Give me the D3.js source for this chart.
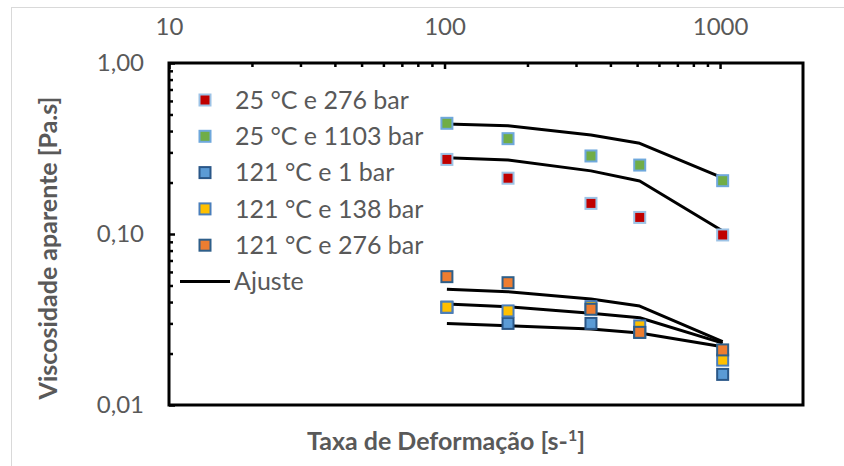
<!DOCTYPE html>
<meta charset="utf-8">
<style>
body { margin: 0; background: #fff; }
text { font-family: Lato, "Open Sans", sans-serif; fill: #595959; }
.axis path { display: none; }
.axis line { stroke: #000; stroke-width: 2.5; }
.axis text { font-size: 24px; }
.fit { fill: none; stroke: #000; stroke-width: 3; stroke-linejoin: round; }
</style>
<body></body>
<script src="https://cdn.jsdelivr.net/npm/d3@7"></script>
<script>

// shear rates [s-1]
var shearRates = [102, 170, 340, 511, 1022];

// measured apparent viscosity [Pa.s]
var visc25_276  = [0.273, 0.212, 0.151, 0.125, 0.0987];
var visc25_1103 = [0.444, 0.361, 0.286, 0.253, 0.205];
var visc121_1   = [0.0373, 0.0300, 0.0300, 0.0266, 0.0151];
var visc121_138 = [0.0373, 0.0355, 0.0376, 0.0290, 0.0183];
var visc121_276 = [0.0563, 0.0519, 0.0363, 0.0266, 0.0210];

// model fits ("Ajuste")
var fit25_276  = [0.279, 0.271, 0.234, 0.204, 0.104];
var fit25_1103 = [0.440, 0.430, 0.379, 0.339, 0.213];
var fit121_1   = [0.0300, 0.0291, 0.0278, 0.0264, 0.0219];
var fit121_138 = [0.0390, 0.0376, 0.0344, 0.0324, 0.0230];
var fit121_276 = [0.0475, 0.0460, 0.0417, 0.0379, 0.0235];

var seriesNames = ["25 °C e 276 bar", "25 °C e 1103 bar", "121 °C e 1 bar", "121 °C e 138 bar", "121 °C e 276 bar"];
var xTicks = [10, 100, 1000];
var yTicks = [0.01, 0.1, 1];

var series = [
  {name: seriesNames[0], values: visc25_276,  fill: "#C00000", stroke: "#9DC3E6"},
  {name: seriesNames[1], values: visc25_1103, fill: "#70AD47", stroke: "#6FA8DC"},
  {name: seriesNames[2], values: visc121_1,   fill: "#5B9BD5", stroke: "#2A5788"},
  {name: seriesNames[3], values: visc121_138, fill: "#FFC000", stroke: "#4A7EBB"},
  {name: seriesNames[4], values: visc121_276, fill: "#ED7D31", stroke: "#2E5F8A"}
];
var fits = [fit25_276, fit25_1103, fit121_1, fit121_138, fit121_276];

var margin = {top: 63, left: 169, right: 41, bottom: 61};
var W = 844, H = 466;
var width = W - margin.left - margin.right,
    height = H - margin.top - margin.bottom;

var svg = d3.select("body").append("svg")
    .attr("width", W)
    .attr("height", H);

// chart area border
svg.append("rect")
    .attr("x", 11.5).attr("y", 7.5)
    .attr("width", 900).attr("height", 600)
    .attr("fill", "#fff")
    .attr("stroke", "#d9d9d9");

var g = svg.append("g")
    .attr("transform", "translate(" + margin.left + "," + margin.top + ")");

var x = d3.scaleLog().domain([10, 2000]).range([0, width]);
var y = d3.scaleLog().domain([0.01, 1]).range([height, 0]);

var comma = d3.formatLocale({decimal: ",", thousands: ".", grouping: [3], currency: ["", ""]}).format(".2f");

// minor ticks
var xMinor = [], yMinor = [];
[10, 100, 1000].forEach(function(b) {
  for (var k = 2; k <= 9; k++) if (b * k < 2000) xMinor.push(b * k);
});
[0.01, 0.1].forEach(function(b) {
  for (var k = 2; k <= 9; k++) yMinor.push(b * k);
});

g.append("g").attr("class", "axis")
    .call(d3.axisTop(x).tickValues(xMinor).tickSize(-4).tickFormat(""));
g.append("g").attr("class", "axis")
    .call(d3.axisTop(x).tickValues(xTicks).tickSize(-6).tickPadding(28).tickFormat(d3.format("d")));

g.append("g").attr("class", "axis")
    .call(d3.axisLeft(y).tickValues(yMinor).tickSize(-4).tickFormat(""));
g.append("g").attr("class", "axis")
    .call(d3.axisLeft(y).tickValues(yTicks).tickSize(-6).tickPadding(25).tickFormat(comma));

// fit lines
var line = d3.line()
    .x(function(d, i) { return x(shearRates[i]); })
    .y(function(d) { return y(d); });

g.selectAll(".fit")
    .data(fits)
    .enter().append("path")
    .attr("class", "fit")
    .attr("d", line);

// markers
var ms = 11;
series.forEach(function(s) {
  g.append("g").selectAll("rect")
    .data(s.values)
    .enter().append("rect")
      .attr("x", function(d, i) { return x(shearRates[i]) - ms / 2; })
      .attr("y", function(d) { return y(d) - ms / 2; })
      .attr("width", ms).attr("height", ms)
      .attr("fill", s.fill)
      .attr("stroke", s.stroke)
      .attr("stroke-width", 2);
});

// plot frame
g.append("rect")
    .attr("width", width).attr("height", height)
    .attr("fill", "none")
    .attr("stroke", "#000")
    .attr("stroke-width", 3);

// legend
var legend = svg.append("g");
series.forEach(function(s, i) {
  var ly = 100 + i * 36.3;
  legend.append("rect")
    .attr("x", 205 - ms / 2).attr("y", ly - ms / 2)
    .attr("width", ms).attr("height", ms)
    .attr("fill", s.fill).attr("stroke", s.stroke).attr("stroke-width", 2);
  legend.append("text")
    .attr("x", 235).attr("y", ly).attr("dy", "0.35em")
    .style("font-size", "25px")
    .text(s.name);
});
legend.append("line")
    .attr("x1", 180).attr("x2", 230)
    .attr("y1", 281.5).attr("y2", 281.5)
    .attr("stroke", "#000").attr("stroke-width", 3);
legend.append("text")
    .attr("x", 234).attr("y", 281.5).attr("dy", "0.35em")
    .style("font-size", "25px")
    .text("Ajuste");

// axis titles
svg.append("text")
    .attr("transform", "translate(57," + (margin.top + height / 2 + 14) + ") rotate(-90)")
    .attr("text-anchor", "middle")
    .style("font-size", "25px")
    .style("font-weight", "bold")
    .text("Viscosidade aparente [Pa.s]");

var xt = svg.append("text")
    .attr("x", 446).attr("y", 450)
    .attr("text-anchor", "middle")
    .style("font-size", "25px")
    .style("font-weight", "bold");
xt.append("tspan").text("Taxa de Deformação [s-");
xt.append("tspan").attr("dy", -9).style("font-size", "16px").text("1");
xt.append("tspan").attr("dy", 9).text("]");

</script>
